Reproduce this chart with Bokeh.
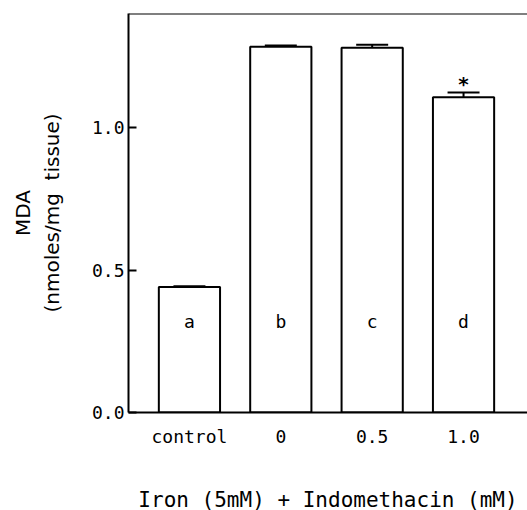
from bokeh.plotting import figure
from bokeh.models import Span, FixedTicker, NumeralTickFormatter
from bokeh.core.properties import value
from bokeh.embed import file_html
from bokeh.resources import INLINE

categories = ["control", "0", "0.5", "1.0"]
mda = [0.44, 1.283, 1.280, 1.106]
sem = [0.003, 0.005, 0.010, 0.017]
letters = ["a", "b", "c", "d"]
significant = [False, False, False, True]
y_ticks = [0.0, 0.5, 1.0]

xs = list(range(1, len(categories) + 1))

p = figure(frame_width=399, frame_height=399,
           x_range=(0.333, 4.70), y_range=(0, 1.40),
           output_backend="svg", toolbar_location=None,
           min_border_left=128, min_border_top=13, min_border_right=0,
           min_border_bottom=10)

p.outline_line_color = None
p.grid.visible = False
p.background_fill_color = "white"
p.border_fill_color = "white"

bar_w = 0.67
p.vbar(x=xs, top=mda, bottom=0, width=bar_w, fill_color="white",
       line_color="black", line_width=2)

tops = [m + s for m, s in zip(mda, sem)]
cap = 0.175
p.segment(x0=xs, y0=mda, x1=xs, y1=tops, line_color="black", line_width=2)
p.segment(x0=[x - cap for x in xs], y0=tops, x1=[x + cap for x in xs], y1=tops,
          line_color="black", line_width=2)

p.text(x=xs, y=[0.32] * len(xs), text=letters, text_align="center",
       text_baseline="middle", text_font=value("DejaVu Sans Mono"),
       text_font_size="18px", text_color="black")

star_x = [x for x, s in zip(xs, significant) if s]
star_y = [t + 0.03 for t, s in zip(tops, significant) if s]
p.text(x=star_x, y=star_y, text=["*"] * len(star_x), text_align="center",
       text_baseline="middle", text_font=value("DejaVu Sans"),
       text_font_size="20px", text_color="black", text_font_style="bold")

p.add_layout(Span(location=1.40, dimension="width", line_color="black", line_width=2))

xa = p.xaxis[0]
xa.ticker = FixedTicker(ticks=xs)
xa.major_label_overrides = {x: c for x, c in zip(xs, categories)}
xa.major_tick_line_color = None
xa.minor_tick_line_color = None
xa.axis_line_width = 2
xa.major_label_text_font = "DejaVu Sans Mono"
xa.major_label_text_font_size = "18px"
xa.major_label_text_color = "black"
xa.major_label_standoff = 7
xa.axis_label = "Iron (5mM) + Indomethacin (mM)"
xa.axis_label_text_font = "DejaVu Sans Mono"
xa.axis_label_text_font_size = "21px"
xa.axis_label_text_font_style = "normal"
xa.axis_label_text_color = "black"
xa.axis_label_standoff = 38

ya = p.yaxis[0]
ya.ticker = FixedTicker(ticks=y_ticks)
ya.formatter = NumeralTickFormatter(format="0.0")
ya.major_tick_in = 8
ya.major_tick_out = 0
ya.major_tick_line_width = 2
ya.minor_tick_line_color = None
ya.axis_line_width = 2
ya.major_label_text_font = "DejaVu Sans Mono"
ya.major_label_text_font_size = "18px"
ya.major_label_text_color = "black"
ya.major_label_standoff = 4
ya.axis_label = "MDA\n(nmoles/mg\u00a0\u00a0tissue)"
ya.axis_label_text_font = "DejaVu Sans"
ya.axis_label_text_font_size = "20px"
ya.axis_label_text_font_style = "normal"
ya.axis_label_text_color = "black"
ya.axis_label_standoff = 25

open("out.html", "w").write(file_html(p, INLINE))
